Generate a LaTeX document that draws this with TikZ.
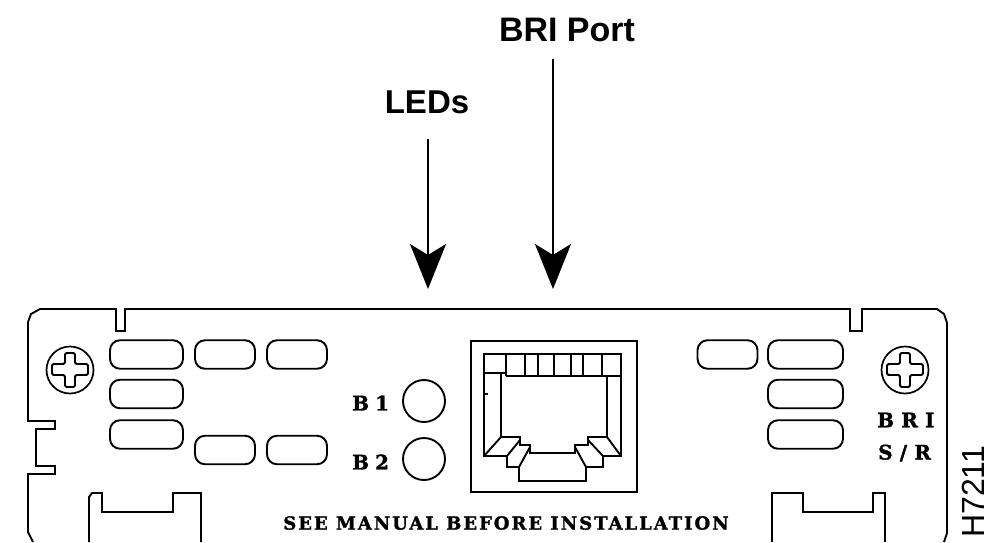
\documentclass[tikz,border=0pt]{standalone}
\usepackage{fontspec}
\usetikzlibrary{arrows.meta}
\setmainfont{Liberation Sans}
\newfontfamily\slabfont[LetterSpace=11,FakeBold=1.5]{DejaVu Serif Bold}
\newfontfamily\slabwide[LetterSpace=36,FakeBold=1.5]{DejaVu Serif Bold}
\begin{document}
\begin{tikzpicture}[x=1pt,y=-1pt,
  outline/.style={line width=1.9pt,line join=miter,black},
  slot/.style={draw,line width=1.9pt,rectangle,rounded corners=10pt,inner sep=0pt,minimum height=28.5pt},
  slotlong/.style={slot,minimum width=73pt},
  slotshort/.style={slot,minimum width=60pt},
  led/.style={draw,line width=1.9pt,circle,minimum size=42pt,inner sep=0pt},
  screw/.style={draw,line width=1.7pt,circle,minimum size=47pt,inner sep=0pt},
  title/.style={font=\fontsize{34}{34}\selectfont\bfseries,inner sep=0pt},
  slab/.style={font=\fontsize{18}{18}\selectfont\slabfont,inner sep=0pt},
  slabw/.style={font=\fontsize{20}{20}\selectfont\slabwide,inner sep=0pt},
  callout/.style={line width=2.2pt,-{Stealth[length=45pt,width=36pt,inset=11pt]}}]
\useasboundingbox (0,0) rectangle (991,542);
% labels and arrows
\node[title] (briport) at (567,30) {BRI Port};
\node[title,font=\fontsize{33}{33}\selectfont\bfseries] (leds) at (427,102) {LEDs};
\coordinate (ledsstart) at (428,139);
\coordinate (ledstip) at (428,289);
\coordinate (bristart) at (553,59);
\coordinate (britip) at (553,289);
\draw[callout] (ledsstart) -- (ledstip);
\draw[callout] (bristart) -- (britip);
% panel outline
\draw[outline] (33,542) -- (28,532) -- (28,474) -- (55,474) -- (55,466) -- (36,466) -- (36,429) -- (55,429) -- (55,421) -- (28,421) -- (28,322) -- (31,314) -- (40,309)
  -- (116,309) -- (116,331) -- (125,331) -- (125,309) -- (850,309) -- (850,331) -- (862,331) -- (862,309)
  -- (937,309) -- (944,314) -- (947,323) -- (947,533) -- (944,542);
% bottom tabs
\draw[outline] (89,542) -- (89,497) -- (92,493) -- (102,493) -- (102,512) -- (173,512) -- (173,493) -- (201,493) -- (201,542);
\draw[outline] (772,542) -- (772,493) -- (803,493) -- (803,512) -- (873,512) -- (873,493) -- (885,493) -- (885,542);
% slots left
\node[slotlong] (sl1) at (146.5,354.5) {};
\node[slotlong] (sl2) at (146.5,394) {};
\node[slotlong] (sl3) at (146.5,434.5) {};
\node[slotshort] (sl4) at (225,354.5) {};
\node[slotshort] (sl5) at (297,354.5) {};
\node[slotshort] (sl6) at (225,450) {};
\node[slotshort] (sl7) at (297,450) {};
% slots right
\node[slotshort] (sr1) at (727.5,354.5) {};
\node[slotlong,minimum width=75pt] (sr2) at (805.5,354.5) {};
\node[slotlong,minimum width=75pt] (sr3) at (805.5,394) {};
\node[slotlong,minimum width=75pt] (sr4) at (805.5,434.5) {};
% screws
\node[screw] (screwl) at (70,370) {};
\node[screw] (screwr) at (905,370) {};
\foreach \c in {screwl,screwr}{
  \draw[outline,rounded corners=1.5pt,shift={(\c)}] (-5,-17) -- (5,-17) -- (5,-6) -- (18,-6) -- (18,5) -- (5,5) -- (5,17) -- (-5,17) -- (-5,5) -- (-18,5) -- (-18,-6) -- (-5,-6) -- cycle;
}
% LEDs
\node[slabw,anchor=west,font=\fontsize{20}{20}\selectfont\slabfont] (b1) at (352,403) {B\hspace{6pt}1};
\node[slabw,anchor=west,font=\fontsize{20}{20}\selectfont\slabfont] (b2) at (352,462) {B\hspace{6pt}2};
\node[led] (b1led) at (424,401) {};
\node[led] (b2led) at (424,459) {};
% port
\draw[line width=2.2pt] (471,341) rectangle (637,492);
\draw[outline] (484,373) -- (484,354) -- (621,354) -- (621,376) -- (506,376);
\draw[outline] (484,373) -- (506,373);
\foreach \x in {506,525,538,554,571,583,602}{\draw[outline] (\x,354) -- (\x,376);}
\draw[outline] (501,373) -- (501,437) -- (520,437) -- (520,445) -- (530,445) -- (530,453) -- (575,453) -- (575,445) -- (588,445) -- (588,437) -- (607,437) -- (607,376);
\draw[outline] (484,373) -- (484,456) -- (507,456) -- (507,467) -- (519,467) -- (519,481) -- (586,481) -- (586,467) -- (603,467) -- (603,456) -- (621,456) -- (621,376);
\draw[outline] (484,456) -- (501,437);
\draw[outline] (507,456) -- (520,440);
\draw[outline] (519,467) -- (530,447);
\draw[outline] (586,467) -- (575,447);
\draw[outline] (603,456) -- (588,440);
\draw[outline] (621,456) -- (607,437);
\draw[outline] (484,394) -- (488,394);
% panel text
\node[slab] (warn) at (506,523) {SEE MANUAL BEFORE INSTALLATION};
\node[slabw,anchor=west] (bri) at (877,420) {BRI};
\node[slabw,anchor=west] (sr) at (878,453) {S/R};
\node[rotate=90,anchor=base west,inner sep=0pt,font=\fontsize{32}{32}\selectfont] (code) at (984,538) {H7211};
\end{tikzpicture}
\end{document}
